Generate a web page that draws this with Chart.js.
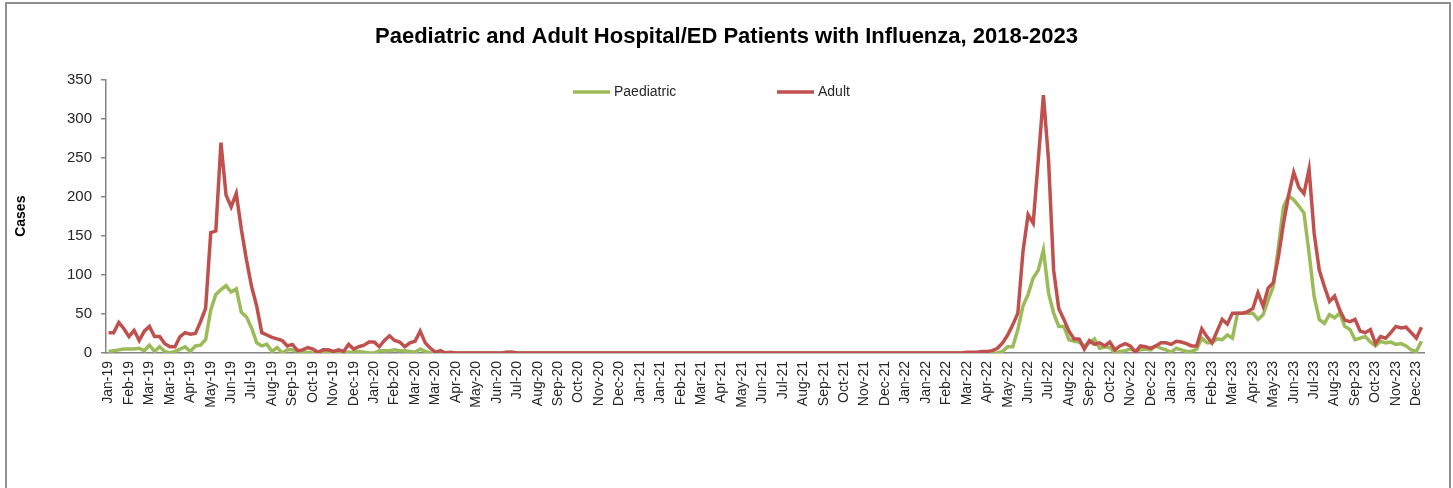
<!DOCTYPE html>
<html>
<head>
<meta charset="utf-8">
<script src="https://cdn.jsdelivr.net/npm/chart.js@4"></script>
<style>
  body { margin: 0; background: #fff; }
  #frame { position: absolute; left: 5px; top: 2px; width: 1442px; height: 600px; border: 2px solid #8f8f8f; }
  #c { position: absolute; left: 0; top: 0; }
</style>
</head>
<body>
<div id="frame"></div>
<canvas id="c" width="1453" height="488"></canvas>
<script>
// x axis labels, one every 4 weeks (weeks start 6 Jan 2019)
const tickLabels = [
  'Jan-19','Feb-19','Mar-19','Mar-19','Apr-19','May-19','Jun-19','Jul-19','Aug-19','Sep-19','Oct-19','Nov-19','Dec-19',
  'Jan-20','Feb-20','Mar-20','Mar-20','Apr-20','May-20','Jun-20','Jul-20','Aug-20','Sep-20','Oct-20','Nov-20','Dec-20',
  'Jan-21','Jan-21','Feb-21','Mar-21','Apr-21','May-21','Jun-21','Jul-21','Aug-21','Sep-21','Oct-21','Nov-21','Dec-21',
  'Jan-22','Jan-22','Feb-22','Mar-22','Apr-22','May-22','Jun-22','Jul-22','Aug-22','Sep-22','Oct-22','Nov-22','Dec-22',
  'Jan-23','Jan-23','Feb-23','Mar-23','Apr-23','May-23','Jun-23','Jul-23','Aug-23','Sep-23','Oct-23','Nov-23','Dec-23'
];

// weekly case counts
const paediatric = [
  2, 3, 4, 5, 5, 5, 6, 3, 10, 2, 8, 2, 0, 2, 5, 8, 2, 9, 10, 17,
  55, 75, 81, 86, 78, 82, 52, 46, 32, 13, 9, 11, 2, 7, 0, 4, 4, 2, 1, 1,
  0, 0, 1, 1, 0, 1, 1, 1, 1, 2, 1, 0, 0, 3, 3, 3, 4, 3, 3, 2,
  1, 5, 2, 0, 0, 0, 0, 0, 0, 0, 0, 0, 0, 0, 0, 0, 0, 0, 1, 1,
  0, 0, 0, 0, 0, 0, 0, 0, 0, 0, 0, 0, 0, 0, 0, 0, 0, 0, 0, 0,
  0, 0, 0, 0, 0, 0, 0, 0, 0, 0, 0, 0, 0, 0, 0, 0, 0, 0, 0, 0,
  0, 0, 0, 0, 0, 0, 0, 0, 0, 0, 0, 0, 0, 0, 0, 0, 0, 0, 0, 0,
  0, 0, 0, 0, 0, 0, 0, 0, 0, 0, 0, 0, 0, 0, 0, 0, 0, 0, 0, 0,
  0, 0, 0, 0, 0, 0, 0, 0, 0, 0, 0, 0, 0, 0, 0, 2, 8, 8, 30, 60,
  75, 96, 106, 132, 77, 51, 34, 34, 17, 15, 14, 9, 13, 18, 6, 8, 7, 0, 2, 3,
  5, 3, 4, 5, 4, 9, 6, 4, 1, 6, 4, 2, 2, 5, 19, 13, 13, 18, 17, 23,
  19, 51, 51, 51, 51, 43, 49, 68, 85, 136, 187, 201, 196, 188, 179, 128, 72, 43, 38, 49,
  45, 51, 34, 30, 17, 19, 21, 14, 9, 15, 13, 14, 11, 12, 9, 4, 2, 15
];

const adult = [
  26, 26, 39, 31, 21, 29, 16, 28, 34, 21, 21, 12, 8, 8, 21, 26, 24, 25, 40, 57,
  154, 156, 269, 202, 187, 204, 158, 119, 85, 60, 26, 23, 20, 18, 16, 9, 11, 3, 4, 7,
  5, 1, 4, 4, 2, 4, 2, 11, 5, 8, 10, 14, 14, 8, 16, 22, 16, 14, 8, 13,
  15, 28, 13, 6, 1, 3, 0, 1, 0, 0, 0, 0, 0, 0, 0, 0, 0, 0, 1, 1,
  0, 0, 0, 0, 0, 0, 0, 0, 0, 0, 0, 0, 0, 0, 0, 0, 0, 0, 0, 0,
  0, 0, 0, 0, 0, 0, 0, 0, 0, 0, 0, 0, 0, 0, 0, 0, 0, 0, 0, 0,
  0, 0, 0, 0, 0, 0, 0, 0, 0, 0, 0, 0, 0, 0, 0, 0, 0, 0, 0, 0,
  0, 0, 0, 0, 0, 0, 0, 0, 0, 0, 0, 0, 0, 0, 0, 0, 0, 0, 0, 0,
  0, 0, 0, 0, 0, 0, 0, 0, 1, 1, 1, 2, 2, 3, 6, 13, 23, 36, 51, 130,
  177, 166, 247, 330, 247, 106, 57, 43, 28, 18, 18, 5, 16, 11, 13, 9, 14, 4, 9, 12,
  9, 1, 9, 8, 6, 9, 13, 13, 11, 15, 14, 12, 9, 9, 31, 21, 13, 28, 43, 37,
  51, 51, 51, 53, 57, 77, 60, 83, 90, 123, 166, 202, 231, 212, 204, 235, 153, 106, 85, 66,
  73, 55, 42, 40, 43, 28, 26, 30, 12, 21, 19, 26, 34, 32, 33, 26, 19, 33
];

const weeks = adult.map((_, i) => (i % 4 === 0 ? tickLabels[i / 4] : ''));

const FONT = '"Liberation Sans", Arial, sans-serif';
const TEXT = '#262626';

// legend sits inside the plot, like the Excel original
const insideLegend = {
  id: 'insideLegend',
  afterDatasetsDraw(chart) {
    const ctx = chart.ctx;
    const starts = [573, 777];
    ctx.save();
    ctx.font = '14px ' + FONT;
    ctx.textBaseline = 'middle';
    ctx.fillStyle = TEXT;
    chart.data.datasets.forEach((ds, i) => {
      const x = starts[i], y = 92;
      ctx.strokeStyle = ds.borderColor;
      ctx.lineWidth = 3.5;
      ctx.beginPath();
      ctx.moveTo(x, y);
      ctx.lineTo(x + 37, y);
      ctx.stroke();
      ctx.fillText(ds.label, x + 41, y);
    });
    ctx.restore();
  }
};

new Chart(document.getElementById('c'), {
  type: 'line',
  data: {
    labels: weeks,
    datasets: [
      {
        label: 'Paediatric',
        data: paediatric,
        borderColor: '#9bbb59',
        borderWidth: 3.5,
        pointRadius: 0,
        tension: 0,
        order: 1
      },
      {
        label: 'Adult',
        data: adult,
        borderColor: '#c0504d',
        borderWidth: 3.5,
        pointRadius: 0,
        tension: 0,
        order: 0
      }
    ]
  },
  options: {
    responsive: false,
    animation: false,
    devicePixelRatio: 1,
    layout: { padding: 0 },
    plugins: {
      legend: { display: false },
      tooltip: { enabled: false },
      title: {
        display: true,
        text: 'Paediatric and Adult Hospital/ED Patients with Influenza, 2018-2023',
        color: '#000',
        font: { family: FONT, size: 22, weight: 'bold' },
        padding: { top: 24, bottom: 29 }
      }
    },
    scales: {
      x: {
        type: 'category',
        offset: true,
        grid: { display: false },
        border: { display: true, color: '#868686', width: 1.5 },
        ticks: {
          autoSkip: false,
          minRotation: 90,
          maxRotation: 90,
          padding: 0,
          color: TEXT,
          font: { family: FONT, size: 14 }
        },
        afterFit(scale) { scale.height = 135; }
      },
      y: {
        min: 0,
        max: 350,
        grid: { display: true, drawOnChartArea: false, drawTicks: true, tickLength: 5, color: '#868686', lineWidth: 1.5 },
        border: { display: true, color: '#868686', width: 1.5 },
        ticks: {
          stepSize: 50,
          padding: 9,
          color: TEXT,
          font: { family: FONT, size: 15 }
        },
        title: {
          display: true,
          text: 'Cases',
          color: '#000',
          font: { family: FONT, size: 14, weight: 'bold' },
          padding: { top: 13 }
        },
        afterFit(scale) { scale.width = 106; }
      },
      // empty right-hand gutter so the title stays centred on the whole canvas
      gutter: {
        type: 'linear',
        position: 'right',
        display: true,
        grid: { display: false },
        border: { display: false },
        ticks: { display: false },
        afterFit(scale) { scale.width = 29; }
      }
    }
  },
  plugins: [insideLegend]
});
</script>
</body>
</html>
